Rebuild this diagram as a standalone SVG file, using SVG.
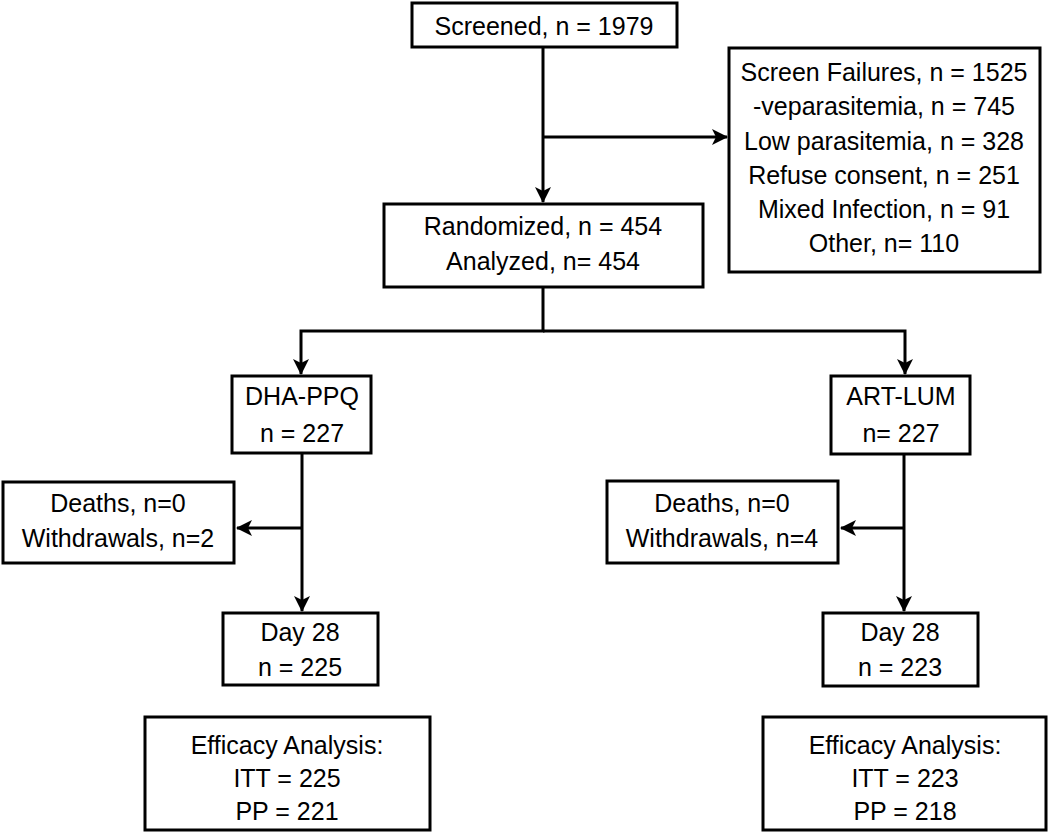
<svg xmlns="http://www.w3.org/2000/svg" width="1048" height="832" viewBox="0 0 1048 832">
<style>
.box{fill:#fff;stroke:#000;stroke-width:3}
.t{font-family:"Liberation Sans",Arial,sans-serif;font-size:25px;fill:#000;text-anchor:middle}
.c{fill:none;stroke:#000;stroke-width:3}
</style>
<defs>
<marker id="ah" viewBox="0 0 16 16" refX="15" refY="8" markerWidth="16" markerHeight="16" markerUnits="userSpaceOnUse" orient="auto">
<path d="M0,0 L16,8 L0,16 L4,8 z" fill="#000"/>
</marker>
</defs>
<rect width="1048" height="832" fill="#fff"/>
<g id="connectors">
<line class="c" x1="543" y1="47" x2="543" y2="202" marker-end="url(#ah)"/>
<line class="c" x1="543" y1="137" x2="727" y2="137" marker-end="url(#ah)"/>
<polyline class="c" points="543,287 543,331 301,331 301,374" marker-end="url(#ah)"/>
<polyline class="c" points="543,331 905,331 905,374" marker-end="url(#ah)"/>
<line class="c" x1="302" y1="453" x2="302" y2="611" marker-end="url(#ah)"/>
<line class="c" x1="302" y1="528" x2="237" y2="528" marker-end="url(#ah)"/>
<line class="c" x1="904" y1="454" x2="904" y2="611" marker-end="url(#ah)"/>
<line class="c" x1="904" y1="528" x2="841" y2="528" marker-end="url(#ah)"/>
</g>
<g id="screened">
<rect class="box" x="412" y="3" width="265" height="44"/>
<text class="t" x="544" y="35">Screened, n = 1979</text>
</g>
<g id="screen-failures">
<rect class="box" x="729" y="48" width="311" height="224"/>
<text class="t" x="884" y="81">Screen Failures, n = 1525</text>
<text class="t" x="884" y="115">-veparasitemia, n = 745</text>
<text class="t" x="884" y="150">Low parasitemia, n = 328</text>
<text class="t" x="884" y="184">Refuse consent, n = 251</text>
<text class="t" x="884" y="218">Mixed Infection, n = 91</text>
<text class="t" x="884" y="252">Other, n= 110</text>
</g>
<g id="randomized">
<rect class="box" x="384" y="204" width="319" height="83"/>
<text class="t" x="543" y="235">Randomized, n = 454</text>
<text class="t" x="543" y="270">Analyzed, n= 454</text>
</g>
<g id="dha-ppq">
<rect class="box" x="232" y="376" width="139" height="77"/>
<text class="t" x="302" y="405">DHA-PPQ</text>
<text class="t" x="302" y="442">n = 227</text>
</g>
<g id="art-lum">
<rect class="box" x="831" y="376" width="139" height="78"/>
<text class="t" x="901" y="405">ART-LUM</text>
<text class="t" x="901" y="442">n= 227</text>
</g>
<g id="dropout-left">
<rect class="box" x="3" y="482" width="231" height="81"/>
<text class="t" x="118" y="512">Deaths, n=0</text>
<text class="t" x="118" y="547">Withdrawals, n=2</text>
</g>
<g id="dropout-right">
<rect class="box" x="607" y="481" width="231" height="82"/>
<text class="t" x="722" y="512">Deaths, n=0</text>
<text class="t" x="722" y="547">Withdrawals, n=4</text>
</g>
<g id="day28-left">
<rect class="box" x="223" y="613" width="155" height="72"/>
<text class="t" x="300" y="641">Day 28</text>
<text class="t" x="300" y="676">n = 225</text>
</g>
<g id="day28-right">
<rect class="box" x="823" y="613" width="155" height="73"/>
<text class="t" x="900" y="641">Day 28</text>
<text class="t" x="900" y="676">n = 223</text>
</g>
<g id="efficacy-left">
<rect class="box" x="145" y="717" width="285" height="113"/>
<text class="t" x="287" y="754">Efficacy Analysis:</text>
<text class="t" x="287" y="787">ITT = 225</text>
<text class="t" x="287" y="820">PP = 221</text>
</g>
<g id="efficacy-right">
<rect class="box" x="763" y="717" width="283" height="113"/>
<text class="t" x="905" y="754">Efficacy Analysis:</text>
<text class="t" x="905" y="787">ITT = 223</text>
<text class="t" x="905" y="820">PP = 218</text>
</g>
</svg>
